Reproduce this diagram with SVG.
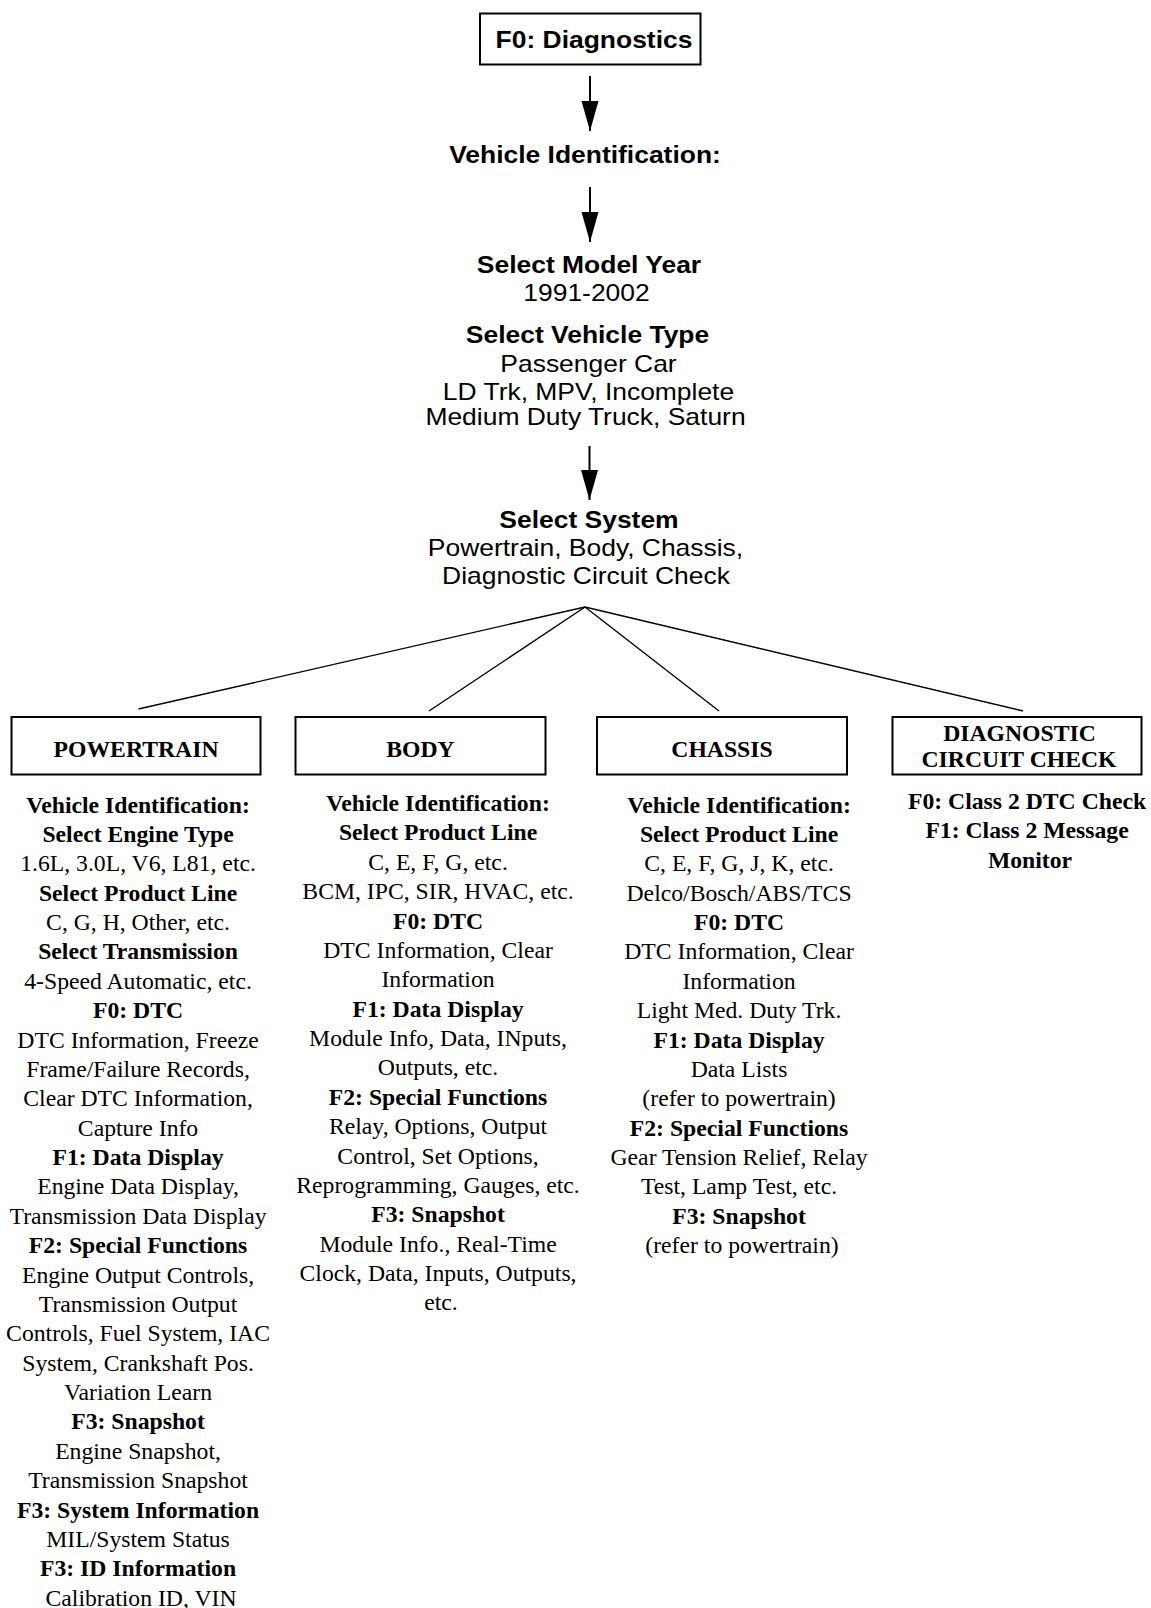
<svg xmlns="http://www.w3.org/2000/svg" width="1151" height="1608" viewBox="0 0 1151 1608">
<style>
.ar{font-family:"Liberation Sans",Arial,sans-serif;font-size:23px;fill:#000;text-anchor:middle}
.b{font-weight:bold}
.tm{font-family:"Liberation Serif","Times New Roman",serif;font-size:23.7px;fill:#000;text-anchor:middle}
.box{fill:#fff;stroke:#000;stroke-width:2}
.conn{stroke:#000;stroke-width:1.4;fill:none}
.arr{stroke:#000;stroke-width:2;fill:none}
</style>
<defs>
<marker id="ah" markerUnits="userSpaceOnUse" markerWidth="31" markerHeight="18" refX="30" refY="8.5" orient="auto">
<path d="M0,0 L30,8.5 L0,17 z" fill="#000"/>
</marker>
</defs>
<rect width="1151" height="1608" fill="#fff"/>

<g id="connectors">
<line class="arr" x1="590" y1="76" x2="590" y2="131" marker-end="url(#ah)"/>
<line class="arr" x1="590" y1="187" x2="590" y2="242" marker-end="url(#ah)"/>
<line class="arr" x1="589.5" y1="446" x2="589.5" y2="500" marker-end="url(#ah)"/>
<line class="conn" x1="585" y1="607" x2="138.5" y2="709"/>
<line class="conn" x1="585" y1="607" x2="429" y2="711"/>
<line class="conn" x1="585" y1="607" x2="719" y2="711"/>
<line class="conn" x1="585" y1="607" x2="1023" y2="711"/>
</g>

<g id="f0-diagnostics">
<rect class="box" x="480" y="13.5" width="220.5" height="51"/>
<text class="ar b" transform="translate(594,48) scale(1.15,1)">F0: Diagnostics</text>
</g>

<g id="vehicle-identification">
<text class="ar b" transform="translate(585,163) scale(1.15,1)">Vehicle Identification:</text>
</g>

<g id="model-year-vehicle-type">
<text class="ar b" transform="translate(589,273) scale(1.15,1)">Select Model Year</text>
<text class="ar" transform="translate(586.5,301) scale(1.15,1)">1991-2002</text>
<text class="ar b" transform="translate(587.5,343) scale(1.15,1)">Select Vehicle Type</text>
<text class="ar" transform="translate(588.5,371.5) scale(1.15,1)">Passenger Car</text>
<text class="ar" transform="translate(588.5,400) scale(1.15,1)">LD Trk, MPV, Incomplete</text>
<text class="ar" transform="translate(585.5,424.5) scale(1.15,1)">Medium Duty Truck, Saturn</text>
</g>

<g id="select-system">
<text class="ar b" transform="translate(589,527.5) scale(1.15,1)">Select System</text>
<text class="ar" transform="translate(585.5,555.5) scale(1.15,1)">Powertrain, Body, Chassis,</text>
<text class="ar" transform="translate(586,583.5) scale(1.15,1)">Diagnostic Circuit Check</text>
</g>

<g id="powertrain">
<rect class="box" x="11.5" y="717" width="249" height="57.5"/>
<text class="tm b" x="136" y="757">POWERTRAIN</text>
<text class="tm" x="141" y="812.5">
<tspan x="141" class="b">Vehicle Identification:</tspan>
<tspan x="141" dy="29.38" class="b">Select Engine Type</tspan>
<tspan x="141" dy="29.38">1.6L, 3.0L, V6, L81, etc.</tspan>
<tspan x="141" dy="29.38" class="b">Select Product Line</tspan>
<tspan x="141" dy="29.38">C, G, H, Other, etc.</tspan>
<tspan x="141" dy="29.38" class="b">Select Transmission</tspan>
<tspan x="141" dy="29.38">4-Speed Automatic, etc.</tspan>
<tspan x="141" dy="29.38" class="b">F0: DTC</tspan>
<tspan x="141" dy="29.38">DTC Information, Freeze</tspan>
<tspan x="141" dy="29.38">Frame/Failure Records,</tspan>
<tspan x="141" dy="29.38">Clear DTC Information,</tspan>
<tspan x="141" dy="29.38">Capture Info</tspan>
<tspan x="141" dy="29.38" class="b">F1: Data Display</tspan>
<tspan x="141" dy="29.38">Engine Data Display,</tspan>
<tspan x="141" dy="29.38">Transmission Data Display</tspan>
<tspan x="141" dy="29.38" class="b">F2: Special Functions</tspan>
<tspan x="141" dy="29.38">Engine Output Controls,</tspan>
<tspan x="141" dy="29.38">Transmission Output</tspan>
<tspan x="141" dy="29.38">Controls, Fuel System, IAC</tspan>
<tspan x="141" dy="29.38">System, Crankshaft Pos.</tspan>
<tspan x="141" dy="29.38">Variation Learn</tspan>
<tspan x="141" dy="29.38" class="b">F3: Snapshot</tspan>
<tspan x="141" dy="29.38">Engine Snapshot,</tspan>
<tspan x="141" dy="29.38">Transmission Snapshot</tspan>
<tspan x="141" dy="29.38" class="b">F3: System Information</tspan>
<tspan x="141" dy="29.38">MIL/System Status</tspan>
<tspan x="141" dy="29.38" class="b">F3: ID Information</tspan>
<tspan x="141" dy="29.38">Calibration ID, VIN</tspan>
</text>
</g>

<g id="body">
<rect class="box" x="295.5" y="717" width="250" height="57.5"/>
<text class="tm b" x="420.5" y="757">BODY</text>
<text class="tm" x="441" y="811">
<tspan x="441" class="b">Vehicle Identification:</tspan>
<tspan x="441" dy="29.38" class="b">Select Product Line</tspan>
<tspan x="441" dy="29.38">C, E, F, G, etc.</tspan>
<tspan x="441" dy="29.38">BCM, IPC, SIR, HVAC, etc.</tspan>
<tspan x="441" dy="29.38" class="b">F0: DTC</tspan>
<tspan x="441" dy="29.38">DTC Information, Clear</tspan>
<tspan x="441" dy="29.38">Information</tspan>
<tspan x="441" dy="29.38" class="b">F1: Data Display</tspan>
<tspan x="441" dy="29.38">Module Info, Data, INputs,</tspan>
<tspan x="441" dy="29.38">Outputs, etc.</tspan>
<tspan x="441" dy="29.38" class="b">F2: Special Functions</tspan>
<tspan x="441" dy="29.38">Relay, Options, Output</tspan>
<tspan x="441" dy="29.38">Control, Set Options,</tspan>
<tspan x="441" dy="29.38">Reprogramming, Gauges, etc.</tspan>
<tspan x="441" dy="29.38" class="b">F3: Snapshot</tspan>
<tspan x="441" dy="29.38">Module Info., Real-Time</tspan>
<tspan x="441" dy="29.38">Clock, Data, Inputs, Outputs,</tspan>
<tspan x="441" dy="29.38">etc.</tspan>
</text>
</g>

<g id="chassis">
<rect class="box" x="597" y="717" width="250" height="57.5"/>
<text class="tm b" x="722" y="757">CHASSIS</text>
<text class="tm" x="742" y="812.5">
<tspan x="742" class="b">Vehicle Identification:</tspan>
<tspan x="742" dy="29.38" class="b">Select Product Line</tspan>
<tspan x="742" dy="29.38">C, E, F, G, J, K, etc.</tspan>
<tspan x="742" dy="29.38">Delco/Bosch/ABS/TCS</tspan>
<tspan x="742" dy="29.38" class="b">F0: DTC</tspan>
<tspan x="742" dy="29.38">DTC Information, Clear</tspan>
<tspan x="742" dy="29.38">Information</tspan>
<tspan x="742" dy="29.38">Light Med. Duty Trk.</tspan>
<tspan x="742" dy="29.38" class="b">F1: Data Display</tspan>
<tspan x="742" dy="29.38">Data Lists</tspan>
<tspan x="742" dy="29.38">(refer to powertrain)</tspan>
<tspan x="742" dy="29.38" class="b">F2: Special Functions</tspan>
<tspan x="742" dy="29.38">Gear Tension Relief, Relay</tspan>
<tspan x="742" dy="29.38">Test, Lamp Test, etc.</tspan>
<tspan x="742" dy="29.38" class="b">F3: Snapshot</tspan>
<tspan x="742" dy="29.38">(refer to powertrain)</tspan>
</text>
</g>

<g id="diagnostic-circuit-check">
<rect class="box" x="892.5" y="717" width="249" height="57.5"/>
<text class="tm b" x="1019.5" y="741">DIAGNOSTIC</text>
<text class="tm b" x="1019" y="767">CIRCUIT CHECK</text>
<text class="tm b" x="1030" y="809">
<tspan x="1030">F0: Class 2 DTC Check</tspan>
<tspan x="1030" dy="29.38">F1: Class 2 Message</tspan>
<tspan x="1030" dy="29.38">Monitor</tspan>
</text>
</g>
</svg>
